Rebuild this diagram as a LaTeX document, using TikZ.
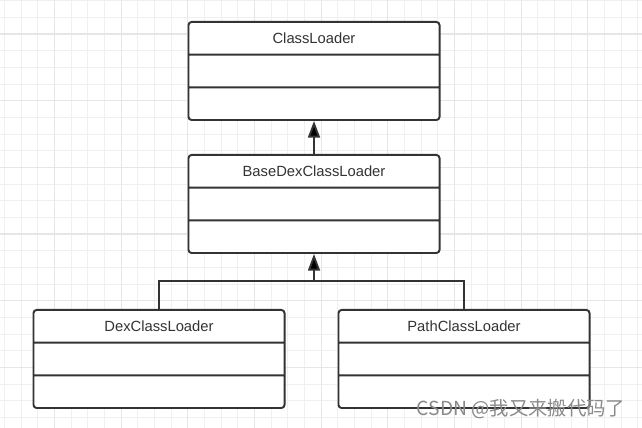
\documentclass[tikz,border=0pt]{standalone}
\usepackage{fontspec}
\setmainfont{Liberation Sans}
\newfontfamily\cjkfont{Noto Sans CJK SC}
\usetikzlibrary{arrows.meta,shapes.multipart}

\definecolor{umlline}{HTML}{333333}
\definecolor{gridminor}{HTML}{F0F0F0}
\definecolor{gridmajor}{HTML}{E6E6E6}
\definecolor{markgray}{HTML}{8A8A8A}

\newcommand{\slot}{\rule[-6pt]{0pt}{17.5pt}}

\tikzset{
  umlclass/.style={rectangle split, rectangle split parts=3, draw=umlline,
    line width=1.1pt, fill=white, rounded corners=1.8pt, text width=142.9pt,
    align=center, inner sep=0pt, text=umlline,
    font=\fontsize{8.4}{10}\selectfont},
  link/.style={draw=umlline, line width=1.1pt},
  inherit/.style={link, -{Triangle[width=6.8pt,length=9.5pt]}},
}

\begin{document}
\begin{tikzpicture}[x=0.02cm, y=-0.02cm]
    \useasboundingbox (0, 0) rectangle (642, 428);
    \fill [white] (0, 0) rectangle (642, 428);

    % grid paper
    \foreach \i in {0,...,38}
      \draw [gridminor, line width=0.6pt] ({4.5+16.67*\i}, 0) -- ++(0, 428);
    \foreach \j in {0,...,25}
      \draw [gridminor, line width=0.6pt] (0, {0.7+16.67*\j}) -- ++(642, 0);
    \foreach \i in {0,...,8}
      \draw [gridmajor, line width=0.7pt] ({54.5+66.67*\i}, 0) -- ++(0, 428);
    \foreach \j in {0,...,5}
      \draw [gridmajor, line width=0.7pt] (0, {34+66.67*\j}) -- ++(642, 0);

    \node [umlclass, anchor=north] (loader) at (314, 21)
      {ClassLoader\slot \nodepart{two}\slot \nodepart{three}\slot};
    \node [umlclass, anchor=north] (base) at (314, 154)
      {BaseDexClassLoader\slot \nodepart{two}\slot \nodepart{three}\slot};
    \node [umlclass, anchor=north] (dex) at (159, 309)
      {DexClassLoader\slot \nodepart{two}\slot \nodepart{three}\slot};
    \node [umlclass, anchor=north] (path) at (464, 309)
      {PathClassLoader\slot \nodepart{two}\slot \nodepart{three}\slot};

    \draw [inherit] (base.north) -- (loader.south);

    \coordinate (fork) at (314, 281);
    \draw [link] (dex.north) |- (fork) -| (path.north);
    \draw [inherit] (fork) -- (base.south);

    \node [text=markgray, font=\cjkfont\fontsize{11}{13}\selectfont] (mark)
      at (521, 409) {CSDN @我又来搬代码了};
\end{tikzpicture}
\end{document}
